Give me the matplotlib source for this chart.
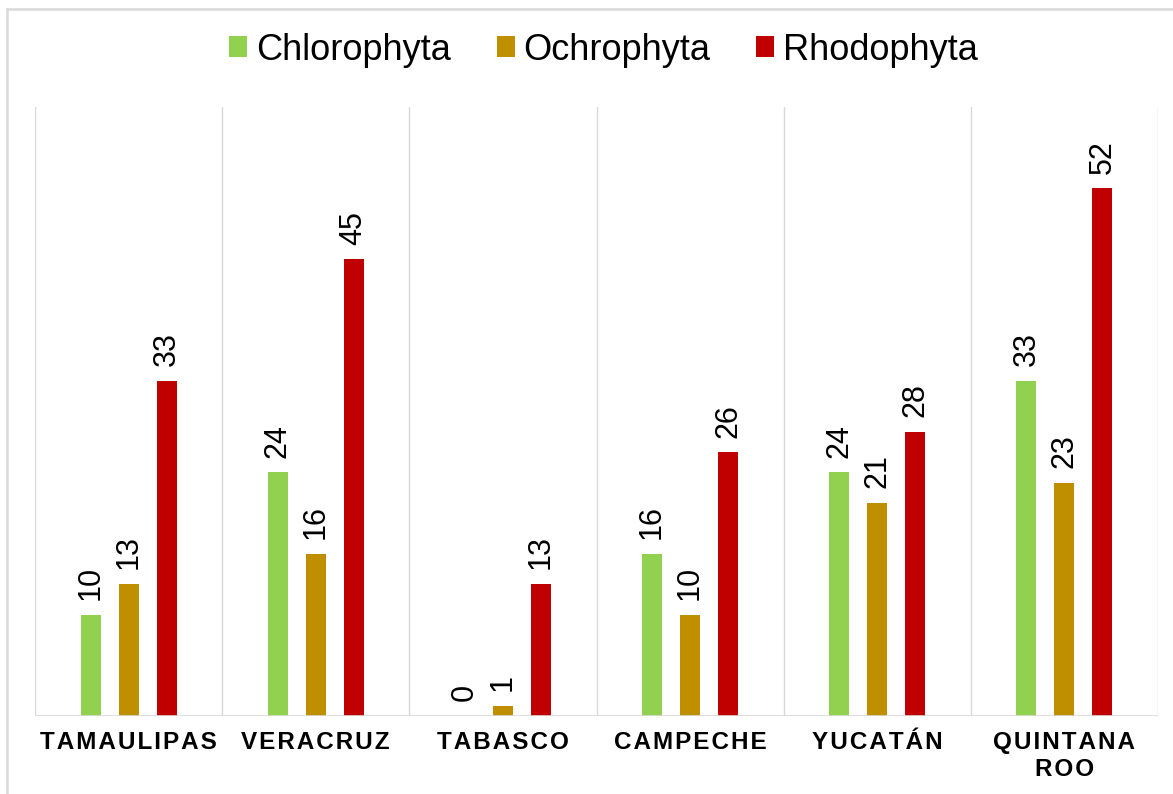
import matplotlib
matplotlib.use("Agg")
import matplotlib.pyplot as plt
import numpy as np
from matplotlib.lines import Line2D

plt.rcParams['font.family'] = ['Liberation Sans', 'DejaVu Sans']

categories = ["TAMAULIPAS", "VERACRUZ", "TABASCO", "CAMPECHE", "YUCATÁN", "QUINTANA\nROO"]
series_names = ["Chlorophyta", "Ochrophyta", "Rhodophyta"]
chlorophyta = [10, 24, 0, 16, 24, 33]
ochrophyta = [13, 16, 1, 10, 21, 23]
rhodophyta = [33, 45, 13, 26, 28, 52]
colors = ["#92D050", "#BF8F00", "#C00000"]

W, H = 1173, 794
fig = plt.figure(figsize=(W / 100, H / 100), dpi=100)
ax = fig.add_axes([35 / W, (H - 716) / H, (1158 - 35) / W, (716 - 107) / H])

x = np.arange(len(categories))
offsets = [-0.203, 0.0, 0.203]
width = 0.107
for vals, name, col, off in zip([chlorophyta, ochrophyta, rhodophyta], series_names, colors, offsets):
    bars = ax.bar(x + off, vals, width=width, color=col, label=name, zorder=3)
    for b, v in zip(bars, vals):
        ax.annotate(str(v), (b.get_x() + b.get_width() / 2, b.get_height()),
                    xytext=(0, 10.5), textcoords="offset points",
                    ha="center", va="bottom", rotation=90, fontsize=22, color="black")

ax.set_xlim(-0.5, len(categories) - 0.5)
ax.set_ylim(0, 60)
for s in ax.spines.values():
    s.set_visible(False)
grid_col = "#D9D9D9"
for k in range(len(categories) + 1):
    ax.axvline(k - 0.5, color=grid_col, lw=1.0, zorder=1)
ax.axhline(0, color=grid_col, lw=1.2, zorder=4)
ax.set_yticks([])

spaced = ["\n".join("\u200a".join(list(line)) for line in c.split("\n")) for c in categories]
ax.set_xticks(x)
ax.set_xticklabels(spaced, fontsize=17.5, fontweight="bold", linespacing=1.2)
ax.tick_params(axis="x", length=0, pad=11)

leg = fig.legend(loc="center", bbox_to_anchor=(603.5 / W, 1 - 50 / H), ncol=3, frameon=False,
                 fontsize=26, handlelength=0.5, handleheight=0.5, handletextpad=0.24,
                 columnspacing=1.27)

# figure border (top and left visible)
fig.add_artist(Line2D([7 / W, 1.0], [1 - 9 / H, 1 - 9 / H], transform=fig.transFigure,
                      color="#D9D9D9", lw=1.8))
fig.add_artist(Line2D([7 / W, 7 / W], [0, 1 - 9 / H], transform=fig.transFigure,
                      color="#D9D9D9", lw=1.8))

fig.savefig("out.png", dpi=100)
